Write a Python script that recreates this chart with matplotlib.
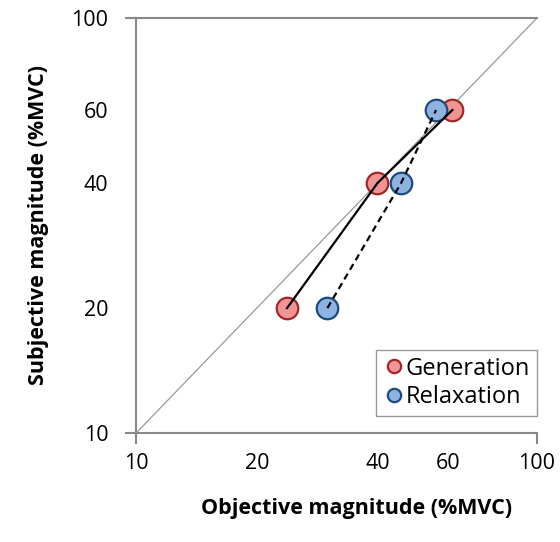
import matplotlib.pyplot as plt

plt.rcParams['font.family'] = ['Open Sans', 'DejaVu Sans']

# data (%MVC)
gen_objective = [23.8, 40.0, 61.5]
gen_subjective = [20.0, 40.0, 60.0]
rel_objective = [30.0, 45.8, 56.0]
rel_subjective = [20.0, 40.0, 60.0]

identity = [10, 100]
major_ticks = [10, 100]
minor_ticks = [20, 40, 60]

fig = plt.figure(figsize=(5.6, 5.42), dpi=100)
ax = fig.add_axes([0.243, 0.201, 0.716, 0.766])

ax.plot(identity, identity, color='#999999', lw=0.9, zorder=1)

ax.plot(gen_objective, gen_subjective, 'o', ms=15.5, mfc='#F09494', mec='#A02828',
        mew=1.6, label='Generation', zorder=3)
ax.plot(rel_objective, rel_subjective, 'o', ms=15.5, mfc='#8DB3E2', mec='#1F4A7A',
        mew=1.6, label='Relaxation', zorder=3)

ax.plot(gen_objective, gen_subjective, '-', color='black', lw=1.6, zorder=4)
ax.plot(rel_objective, rel_subjective, '--', color='black', lw=1.6,
        dashes=(3, 2), zorder=4)

ax.set_xscale('log')
ax.set_yscale('log')
ax.set_xlim(10, 100)
ax.set_ylim(10, 100)

ax.set_xticks(major_ticks, labels=[str(t) for t in major_ticks])
ax.set_yticks(major_ticks, labels=[str(t) for t in major_ticks])
ax.set_xticks(minor_ticks, labels=[str(t) for t in minor_ticks], minor=True)
ax.set_yticks(minor_ticks, labels=[str(t) for t in minor_ticks], minor=True)

ax.tick_params(which='major', length=8, width=1.5, color='#888888',
               labelsize=15.5, direction='out')
ax.tick_params(which='minor', length=0, labelsize=15.5)
ax.tick_params(axis='x', which='major', pad=6)
ax.tick_params(axis='x', which='minor', pad=14)
ax.tick_params(axis='y', which='major', pad=12)
ax.tick_params(axis='y', which='minor', pad=20)

for side in ['top', 'right']:
    ax.spines[side].set_visible(False)
for side in ['left', 'bottom']:
    ax.spines[side].set_color('#888888')
    ax.spines[side].set_linewidth(1.5)

# horizontal gridline at 100
ax.axhline(100, color='#888888', lw=1.5, clip_on=False, zorder=2)

ax.set_xlabel('Objective magnitude (%MVC)', fontsize=15.5, fontweight='bold')
ax.xaxis.set_label_coords(0.551, -0.157)
ax.set_ylabel('Subjective magnitude (%MVC)', fontsize=15.5, fontweight='bold', labelpad=16)

leg = ax.legend(loc='lower right', bbox_to_anchor=(1.0, 0.04), borderaxespad=0,
                fontsize=17, markerscale=0.62, handletextpad=0.05, handlelength=0.9,
                fancybox=False, edgecolor='#999999', framealpha=1, borderpad=0.3,
                labelspacing=0.2)
leg.get_frame().set_linewidth(1.0)

fig.savefig('out.png', dpi=100)
